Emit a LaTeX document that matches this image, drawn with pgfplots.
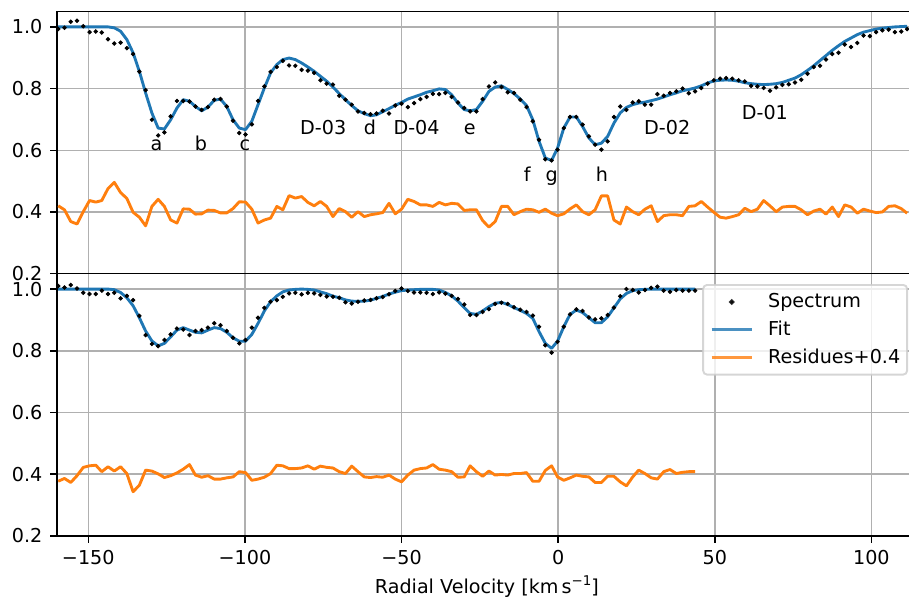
\documentclass[border=0pt]{standalone}
\usepackage{fontspec}
\setmainfont{DejaVu Sans}
\usepackage{pgfplots}
\usepackage{pgfplotstable}
\pgfplotsset{compat=1.18}
\definecolor{mblue}{HTML}{1F77B4}
\definecolor{morange}{HTML}{FF7F0E}
\definecolor{mgrid}{HTML}{B0B0B0}
\definecolor{mleg}{HTML}{CCCCCC}

\pgfplotstableread{
x spec fit res
-159.6 0.993 1.000 0.420
-157.6 0.997 1.000 0.407
-155.6 1.017 1.000 0.369
-153.6 1.020 1.000 0.361
-151.6 1.002 1.000 0.401
-149.6 0.983 1.000 0.437
-147.6 0.985 1.000 0.432
-145.7 0.982 1.000 0.437
-143.7 0.960 1.000 0.476
-141.7 0.946 0.997 0.496
-139.7 0.949 0.986 0.463
-137.7 0.931 0.959 0.444
-135.7 0.912 0.916 0.399
-133.7 0.855 0.856 0.383
-131.7 0.795 0.786 0.355
-129.7 0.699 0.721 0.418
-127.7 0.648 0.672 0.441
-125.7 0.658 0.669 0.418
-123.7 0.710 0.699 0.374
-121.7 0.760 0.737 0.364
-119.7 0.760 0.764 0.410
-117.7 0.758 0.759 0.409
-115.8 0.742 0.742 0.393
-113.8 0.731 0.728 0.394
-111.8 0.740 0.740 0.406
-109.8 0.764 0.762 0.405
-107.8 0.766 0.766 0.397
-105.8 0.742 0.742 0.397
-103.8 0.696 0.699 0.411
-101.8 0.656 0.672 0.433
-99.8 0.651 0.667 0.432
-97.8 0.684 0.694 0.409
-95.8 0.760 0.748 0.364
-93.8 0.807 0.802 0.374
-91.8 0.854 0.851 0.380
-89.8 0.870 0.878 0.418
-87.9 0.890 0.894 0.407
-85.9 0.875 0.899 0.453
-83.9 0.874 0.894 0.445
-81.9 0.861 0.883 0.450
-79.9 0.858 0.870 0.431
-77.9 0.851 0.856 0.420
-75.9 0.827 0.840 0.434
-73.9 0.816 0.824 0.418
-71.9 0.813 0.805 0.385
-69.9 0.777 0.784 0.411
-67.9 0.764 0.764 0.401
-65.9 0.748 0.745 0.383
-63.9 0.726 0.728 0.401
-61.9 0.721 0.719 0.385
-59.9 0.717 0.712 0.391
-58.0 0.719 0.715 0.394
-56.0 0.728 0.725 0.398
-54.0 0.719 0.735 0.428
-52.0 0.745 0.746 0.394
-50.0 0.751 0.755 0.409
-48.0 0.740 0.766 0.441
-46.0 0.753 0.773 0.434
-44.0 0.766 0.780 0.423
-42.0 0.773 0.788 0.423
-40.0 0.783 0.793 0.418
-38.0 0.782 0.799 0.431
-36.0 0.786 0.797 0.423
-34.0 0.773 0.780 0.428
-32.0 0.755 0.753 0.426
-30.0 0.737 0.732 0.405
-28.1 0.726 0.728 0.407
-26.1 0.726 0.732 0.407
-24.1 0.766 0.759 0.372
-22.1 0.807 0.791 0.351
-20.1 0.820 0.805 0.369
-18.1 0.805 0.809 0.418
-16.1 0.788 0.797 0.418
-14.1 0.786 0.784 0.391
-12.1 0.764 0.766 0.401
-10.1 0.740 0.745 0.409
-8.1 0.694 0.699 0.407
-6.1 0.634 0.629 0.399
-4.1 0.571 0.575 0.409
-2.1 0.567 0.567 0.396
-0.2 0.602 0.607 0.388
1.8 0.672 0.672 0.394
3.8 0.708 0.708 0.410
5.8 0.708 0.708 0.423
7.8 0.683 0.677 0.401
9.8 0.645 0.640 0.391
11.8 0.618 0.618 0.407
13.8 0.602 0.623 0.452
15.8 0.629 0.645 0.452
17.8 0.708 0.688 0.374
19.8 0.742 0.721 0.361
21.8 0.731 0.739 0.416
23.8 0.755 0.748 0.401
25.7 0.759 0.753 0.391
27.7 0.748 0.756 0.409
29.7 0.748 0.761 0.420
31.7 0.782 0.766 0.369
33.7 0.777 0.773 0.388
35.7 0.786 0.780 0.391
37.7 0.791 0.786 0.391
39.7 0.800 0.793 0.388
41.7 0.785 0.797 0.418
43.7 0.791 0.802 0.420
45.7 0.802 0.809 0.434
47.7 0.816 0.818 0.416
49.7 0.827 0.825 0.399
51.7 0.832 0.827 0.383
53.6 0.834 0.828 0.380
55.6 0.832 0.827 0.385
57.6 0.827 0.824 0.391
59.6 0.823 0.819 0.412
61.6 0.809 0.816 0.401
63.6 0.807 0.814 0.409
65.6 0.802 0.813 0.437
67.6 0.793 0.814 0.420
69.6 0.804 0.816 0.401
71.6 0.812 0.820 0.416
73.6 0.814 0.827 0.418
75.6 0.820 0.834 0.418
77.6 0.829 0.845 0.407
79.6 0.848 0.859 0.391
81.6 0.870 0.874 0.403
83.6 0.874 0.891 0.409
85.5 0.894 0.907 0.393
87.5 0.912 0.924 0.416
89.5 0.916 0.939 0.385
91.5 0.943 0.953 0.423
93.5 0.935 0.964 0.416
95.5 0.948 0.975 0.396
97.5 0.972 0.983 0.409
99.5 0.970 0.988 0.403
101.5 0.983 0.993 0.398
103.5 0.989 0.996 0.400
105.5 0.991 0.998 0.418
107.5 0.983 1.000 0.420
109.5 0.985 1.001 0.411
111.4 0.993 1.002 0.396
}\toptab

\pgfplotstableread{
x spec fit res
-159.6 1.010 1.000 0.377
-157.6 1.005 1.000 0.386
-155.6 1.013 1.000 0.373
-153.6 1.002 1.000 0.395
-151.6 0.988 1.000 0.422
-149.6 0.984 1.000 0.427
-147.6 0.984 1.000 0.429
-145.7 0.995 1.000 0.408
-143.7 0.984 1.000 0.424
-141.7 0.988 0.998 0.410
-139.7 0.970 0.989 0.424
-137.7 0.978 0.972 0.402
-135.7 0.964 0.946 0.343
-133.7 0.913 0.907 0.364
-131.7 0.851 0.864 0.413
-129.7 0.822 0.832 0.410
-127.7 0.815 0.816 0.401
-125.7 0.835 0.824 0.389
-123.7 0.853 0.845 0.395
-121.7 0.872 0.867 0.404
-119.7 0.869 0.875 0.416
-117.7 0.851 0.867 0.431
-115.8 0.864 0.860 0.397
-113.8 0.867 0.858 0.390
-111.8 0.875 0.867 0.395
-109.8 0.889 0.875 0.384
-107.8 0.883 0.872 0.384
-105.8 0.864 0.860 0.388
-103.8 0.842 0.842 0.391
-101.8 0.824 0.831 0.408
-99.8 0.835 0.831 0.405
-97.8 0.875 0.853 0.380
-95.8 0.907 0.889 0.384
-93.8 0.939 0.929 0.390
-91.8 0.959 0.959 0.402
-89.8 0.964 0.978 0.429
-87.9 0.975 0.991 0.427
-85.9 0.986 0.997 0.418
-83.9 0.988 0.999 0.418
-81.9 0.983 1.000 0.420
-79.9 0.988 0.999 0.427
-77.9 0.986 0.997 0.416
-75.9 0.981 0.991 0.426
-73.9 0.976 0.985 0.422
-71.9 0.975 0.977 0.420
-69.9 0.972 0.972 0.408
-67.9 0.957 0.965 0.402
-65.9 0.953 0.961 0.426
-63.9 0.959 0.960 0.408
-61.9 0.963 0.961 0.391
-59.9 0.965 0.964 0.389
-58.0 0.970 0.970 0.392
-56.0 0.974 0.976 0.390
-54.0 0.983 0.984 0.397
-52.0 0.994 0.990 0.384
-50.0 1.002 0.995 0.375
-48.0 0.994 0.997 0.397
-46.0 0.989 0.998 0.413
-44.0 0.989 0.999 0.418
-42.0 0.988 0.999 0.420
-40.0 0.984 0.999 0.431
-38.0 0.989 0.997 0.416
-36.0 0.985 0.989 0.413
-34.0 0.978 0.978 0.408
-32.0 0.968 0.961 0.390
-30.0 0.950 0.940 0.391
-28.1 0.916 0.921 0.427
-26.1 0.916 0.918 0.408
-24.1 0.926 0.929 0.393
-22.1 0.935 0.943 0.410
-20.1 0.952 0.954 0.397
-18.1 0.956 0.957 0.399
-16.1 0.952 0.950 0.397
-14.1 0.941 0.940 0.402
-12.1 0.933 0.931 0.402
-10.1 0.926 0.921 0.405
-8.1 0.914 0.905 0.377
-6.1 0.878 0.862 0.377
-4.1 0.818 0.824 0.412
-2.1 0.794 0.808 0.427
-0.2 0.829 0.831 0.391
1.8 0.878 0.878 0.380
3.8 0.918 0.918 0.388
5.8 0.934 0.932 0.397
7.8 0.929 0.924 0.393
9.8 0.908 0.907 0.391
11.8 0.902 0.891 0.373
13.8 0.905 0.891 0.373
15.8 0.916 0.910 0.393
17.8 0.940 0.939 0.393
19.8 0.977 0.968 0.375
21.8 1.000 0.986 0.362
23.8 0.997 0.995 0.391
25.7 0.989 0.998 0.413
27.7 0.997 0.999 0.402
29.7 1.004 1.000 0.388
31.7 1.008 1.000 0.384
33.7 0.995 1.000 0.408
35.7 0.991 1.000 0.415
37.7 0.997 1.000 0.402
39.7 0.995 1.000 0.406
41.7 0.995 1.000 0.408
43.7 0.995 1.000 0.408
}\bottab

\begin{document}
\begin{tikzpicture}
\pgfplotsset{
  panel/.style={
    scale only axis, width=444.9pt, height=136.9pt,
    xmin=-160, xmax=112, ymin=0.2, ymax=1.05,
    axis x line*=box, axis y line*=left,
    axis line style={-, line width=0.8pt, black},
    xtick pos=left, ytick pos=left,
    tick align=outside, major tick length=3.5pt,
    every tick/.style={black, line width=0.8pt},
    grid=major, major grid style={mgrid, line width=0.8pt},
    xtick={-150,-100,-50,0,50,100},
    ytick={0.2,0.4,0.6,0.8,1.0},
    yticklabels={0.2,0.4,0.6,0.8,1.0},
    tick label style={font=\fontsize{10}{12}\selectfont},
    yticklabel style={xshift=-0.6pt},
    xticklabel style={yshift=-0.6pt},
    clip=true,
  },
  spec/.style={only marks, mark=*, mark size=0.95pt, black, mark options={draw=none, fill=black}},
  fitl/.style={mblue, line width=1.5pt, line join=round},
  resl/.style={morange, line width=1.5pt, line join=round},
}
% top panel
\begin{axis}[panel, at={(0pt,136.9pt)}, anchor=south west,
  xticklabels={}, xtick style={draw=none}]
\addplot[spec] table[x=x,y=spec]{\toptab};
\addplot[fitl] table[x=x,y=fit]{\toptab};
\addplot[resl] table[x=x,y=res]{\toptab};
\node[anchor=base] at (axis cs:-128.2,0.6) {a};
\node[anchor=base] at (axis cs:-114.0,0.6) {b};
\node[anchor=base] at (axis cs:-100.0,0.6) {c};
\node[anchor=base] at (axis cs:-75.0,0.65) {D-03};
\node[anchor=base] at (axis cs:-60.1,0.65) {d};
\node[anchor=base] at (axis cs:-45.2,0.65) {D-04};
\node[anchor=base] at (axis cs:-28.2,0.65) {e};
\node[anchor=base] at (axis cs:-9.9,0.5) {f};
\node[anchor=base] at (axis cs:-2.1,0.5) {g};
\node[anchor=base] at (axis cs:14.0,0.5) {h};
\node[anchor=base] at (axis cs:34.8,0.65) {D-02};
\node[anchor=base] at (axis cs:66.0,0.7) {D-01};
\end{axis}
% bottom panel
\begin{axis}[panel, at={(0pt,0pt)}, anchor=south west,
  xticklabels={−150,−100,−50,0,50,100},
  legend style={at={(rel axis cs:1,1)}, anchor=north east, xshift=-0.5pt, yshift=-5.4pt,
    draw=mleg, line width=1pt, rounded corners=2pt, fill=white, fill opacity=0.8,
    draw opacity=0.8, text opacity=1, inner xsep=3.6pt, inner ysep=4pt,
    row sep=4.7pt, column sep=7.6pt,
    nodes={inner sep=0pt, text height=7.8pt, text depth=2pt},
    font=\fontsize{10}{12}\selectfont},
  legend cell align=left]
\addplot[spec, legend image code/.code={\fill[black] (10.6pt,0pt) circle (0.95pt);}] table[x=x,y=spec]{\bottab};
\addlegendentry{Spectrum}
\addplot[fitl, legend image code/.code={\draw[mblue, line width=1.5pt] (0pt,0pt) -- (21.2pt,0pt);}] table[x=x,y=fit]{\bottab};
\addlegendentry{Fit}
\addplot[resl, legend image code/.code={\draw[morange, line width=1.5pt] (0pt,0pt) -- (21.2pt,0pt);}] table[x=x,y=res]{\bottab};
\addlegendentry{Residues+0.4}
\end{axis}
\node[anchor=base, font=\fontsize{10}{12}\selectfont] at (224.5pt,-30.2pt)
  {Radial Velocity [km\,s\raisebox{0.75ex}{\fontsize{7}{7}\selectfont −1}]};
\pgfresetboundingbox
\path[use as bounding box] (-29.75pt,-32.36pt) rectangle (444.9pt,279.8pt);
\end{tikzpicture}
\end{document}
